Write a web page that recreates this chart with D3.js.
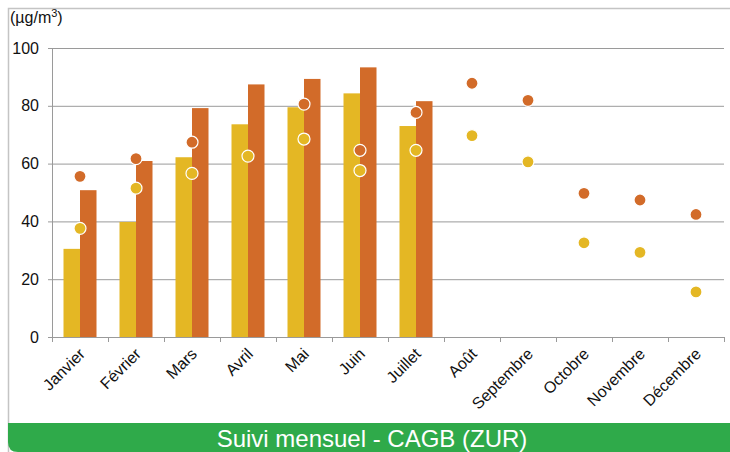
<!DOCTYPE html>
<html>
<head>
<meta charset="utf-8">
<script src="https://cdn.jsdelivr.net/npm/d3@7"></script>
<style>
  body { margin: 0; background: #fff; }
  svg { display: block; font-family: "Liberation Sans", Arial, sans-serif; }
</style>
</head>
<body>
<div id="chart"></div>
<script>
// DATA
var months = ["Janvier", "Février", "Mars", "Avril", "Mai", "Juin", "Juillet",
              "Août", "Septembre", "Octobre", "Novembre", "Décembre"];
// bars (only first 7 months)
var barYellow = [30.5, 39.8, 62.2, 73.6, 79.5, 84.3, 73];
var barOrange = [50.8, 60.9, 79.2, 87.4, 89.3, 93.3, 81.6];
// dots
var dotOrange = [55.6, 61.7, 67.4, null, 80.6, 64.6, 77.7, 87.8, 81.9, 49.7, 47.4, 42.4];
var dotYellow = [37.6, 51.5, 56.6, 62.6, 68.5, 57.6, 64.6, 69.7, 60.6, 32.6, 29.3, 15.6];
var yTicks = [0, 20, 40, 60, 80, 100];

var W = 730, H = 452;
var yellow = "#E4B724", orange = "#D26B29";

var svg = d3.select("#chart").append("svg")
    .attr("width", W)
    .attr("height", H);

// frame
svg.append("path")
    .attr("d", "M8.5,452 L8.5,8.5 L730,8.5")
    .attr("fill", "none")
    .attr("stroke", "#c4c4c4")
    .attr("stroke-width", 1.5);

var margins = { left: 52, right: 6, top: 48, bottom: 115 };
var width = W - margins.left - margins.right;
var height = H - margins.top - margins.bottom;

var g = svg.append("g")
    .attr("transform", "translate(" + margins.left + "," + margins.top + ")");

var x = d3.scaleBand()
    .domain(months)
    .range([0, width]);
var y = d3.scaleLinear()
    .domain([0, 100])
    .range([height, 0]);

// gridlines
g.selectAll(".grid")
    .data(yTicks.filter(d => d > 0))
    .enter()
    .append("line")
        .attr("x1", 0)
        .attr("x2", width)
        .attr("y1", d => y(d) + 0.5)
        .attr("y2", d => y(d) + 0.5)
        .attr("stroke", "#9a9a9a")
        .attr("stroke-width", 1);

// bars
var bw = 16.5;
var bars = months.slice(0, barYellow.length);
g.selectAll(".by")
    .data(bars)
    .enter()
    .append("rect")
        .attr("x", (d, i) => x(d) + x.bandwidth() / 2 - bw)
        .attr("y", (d, i) => y(barYellow[i]))
        .attr("width", bw)
        .attr("height", (d, i) => height - y(barYellow[i]))
        .attr("fill", yellow);
g.selectAll(".bo")
    .data(bars)
    .enter()
    .append("rect")
        .attr("x", (d, i) => x(d) + x.bandwidth() / 2)
        .attr("y", (d, i) => y(barOrange[i]))
        .attr("width", bw)
        .attr("height", (d, i) => height - y(barOrange[i]))
        .attr("fill", orange);

// axes
var yAxis = g.append("g")
    .call(d3.axisLeft(y).tickValues(yTicks).tickSize(4).tickPadding(9));
yAxis.select(".domain").attr("stroke", "#9a9a9a");
yAxis.selectAll(".tick line").attr("stroke", "#9a9a9a");
yAxis.selectAll("text")
    .style("font-size", "16px")
    .attr("fill", "#111");

var xAxis = g.append("g")
    .attr("transform", "translate(0," + height + ")")
    .call(d3.axisBottom(x).tickSize(0).tickFormat(""));
xAxis.select(".domain").attr("stroke", "#9a9a9a");

// ticks between categories
g.selectAll(".xt")
    .data(d3.range(months.length + 1))
    .enter()
    .append("line")
        .attr("x1", d => Math.round(d * x.bandwidth()) + 0.5)
        .attr("x2", d => Math.round(d * x.bandwidth()) + 0.5)
        .attr("y1", height)
        .attr("y2", height + 5)
        .attr("stroke", "#9a9a9a");

// rotated month labels
g.selectAll(".xl")
    .data(months)
    .enter()
    .append("text")
        .attr("transform", d => "translate(" + (x(d) + x.bandwidth() / 2 + 2) + "," + (height + 14) + ") rotate(-45)")
        .attr("text-anchor", "end")
        .attr("dy", "0.35em")
        .style("font-size", "16px")
        .attr("fill", "#111")
        .text(d => d);

// dots
function dots(vals, color) {
    g.selectAll(null)
        .data(months.map((m, i) => ({ m: m, v: vals[i] })).filter(d => d.v != null))
        .enter()
        .append("circle")
            .attr("cx", d => x(d.m) + x.bandwidth() / 2)
            .attr("cy", d => y(d.v))
            .attr("r", 6)
            .attr("fill", color)
            .attr("stroke", "#fff")
            .attr("stroke-width", 1.2);
}
dots(dotOrange, orange);
dots(dotYellow, yellow);

// unit label
svg.append("text")
    .attr("x", 10)
    .attr("y", 23)
    .style("font-size", "16px")
    .attr("fill", "#111")
    .html("(µg/m<tspan dy='-6' font-size='11px'>3</tspan><tspan dy='6'>)</tspan>");

// footer band
svg.append("path")
    .attr("d", "M8,423 L730,423 L730,452 L18,452 Q8,452 8,442 Z")
    .attr("fill", "#2FAA4A");
svg.append("text")
    .attr("x", 372)
    .attr("y", 447)
    .attr("text-anchor", "middle")
    .style("font-size", "24px")
    .attr("fill", "#fff")
    .text("Suivi mensuel - CAGB (ZUR)");
</script>
</body>
</html>
